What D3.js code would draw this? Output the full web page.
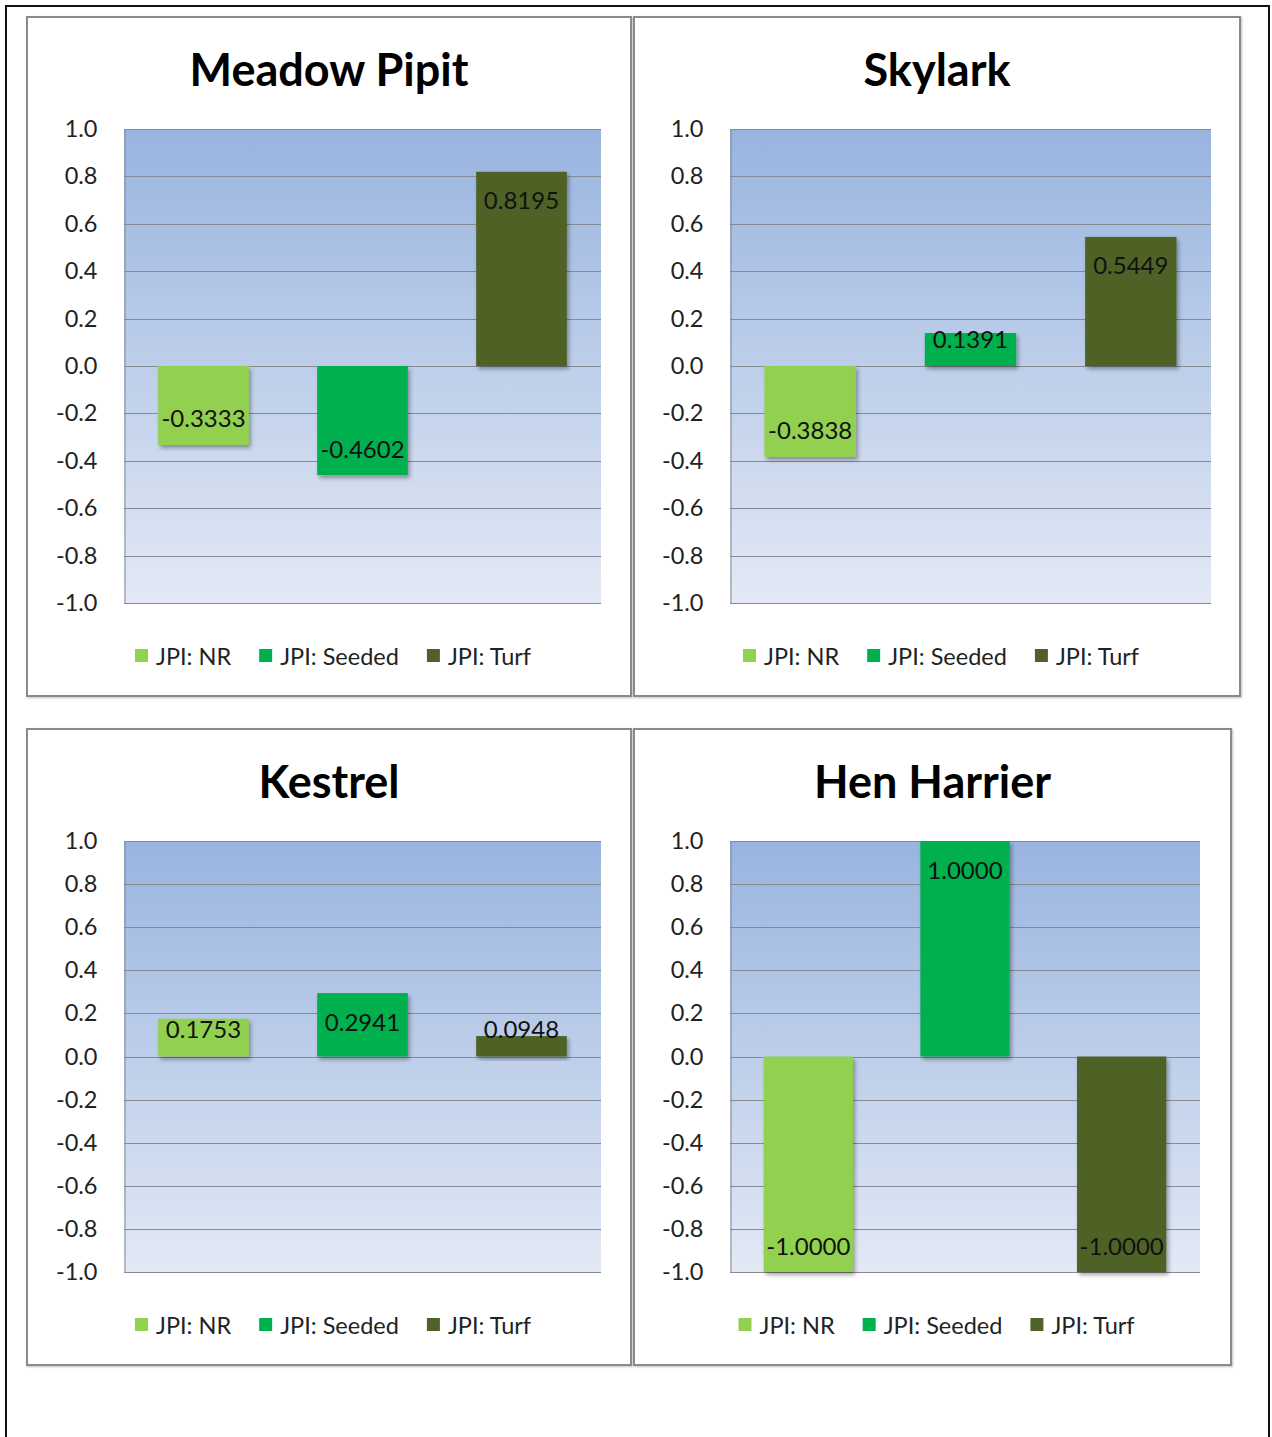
<!DOCTYPE html>
<html>
<head>
<meta charset="utf-8">
<script src="https://cdn.jsdelivr.net/npm/d3@7/dist/d3.min.js"></script>
<style>
  html, body { margin: 0; padding: 0; background: #fff; }
  svg { display: block; }
  text { font-family: Lato, "Open Sans", sans-serif; }
</style>
</head>
<body>
<svg id="chart" width="1272" height="1437"></svg>
<script>
// Joint probability index per species and restoration treatment
const species = ["Meadow Pipit", "Skylark", "Kestrel", "Hen Harrier"];
const seriesNames = ["JPI: NR", "JPI: Seeded", "JPI: Turf"];
const nrValues = [-0.3333, -0.3838, 0.1753, -1.0000];
const seededValues = [-0.4602, 0.1391, 0.2941, 1.0000];
const turfValues = [0.8195, 0.5449, 0.0948, -1.0000];
const yTicks = [1.0, 0.8, 0.6, 0.4, 0.2, 0.0, -0.2, -0.4, -0.6, -0.8, -1.0];
const seriesColors = ["#92d050", "#00b050", "#4f6228"];

// Frame and plot-area geometry for the 2x2 grid of panels
const panels = [
  { x: 27,  y: 17,  w: 604, h: 679, plot: { l: 124, r: 601,  t: 129, b: 603 } },
  { x: 634, y: 17,  w: 606, h: 679, plot: { l: 730, r: 1211, t: 129, b: 603 } },
  { x: 27,  y: 729, w: 604, h: 636, plot: { l: 124, r: 601,  t: 841, b: 1272 } },
  { x: 634, y: 729, w: 597, h: 636, plot: { l: 730, r: 1200, t: 841, b: 1272 } }
];

// Plain hyphen for negatives, one decimal place
const tickFmt = d => d.toFixed(1).replace("\u2212", "-");
const valueFmt = d => d.toFixed(4);

const svg = d3.select("#chart");
const defs = svg.append("defs");

const grad = defs.append("linearGradient")
  .attr("id", "plotBg").attr("x1", 0).attr("y1", 0).attr("x2", 0).attr("y2", 1);
grad.append("stop").attr("offset", "0%").attr("stop-color", "#98b4df");
grad.append("stop").attr("offset", "100%").attr("stop-color", "#e3e9f5");

const shadow = defs.append("filter").attr("id", "barShadow")
  .attr("x", "-10%").attr("y", "-10%").attr("width", "130%").attr("height", "130%");
shadow.append("feDropShadow").attr("dx", 2).attr("dy", 3)
  .attr("stdDeviation", 2).attr("flood-color", "#000").attr("flood-opacity", 0.35);

const panelShadow = defs.append("filter").attr("id", "panelShadow")
  .attr("x", "-5%").attr("y", "-5%").attr("width", "110%").attr("height", "110%");
panelShadow.append("feDropShadow").attr("dx", 1).attr("dy", 1)
  .attr("stdDeviation", 1).attr("flood-color", "#000").attr("flood-opacity", 0.25);

// Outer page frame
svg.append("rect")
  .attr("x", 6).attr("y", 6).attr("width", 1263).attr("height", 1440)
  .attr("fill", "none").attr("stroke", "#111").attr("stroke-width", 2);

species.forEach((name, i) => {
  const p = panels[i];
  const values = [nrValues[i], seededValues[i], turfValues[i]];
  const g = svg.append("g");

  g.append("rect")
    .attr("x", p.x).attr("y", p.y).attr("width", p.w).attr("height", p.h)
    .attr("fill", "#fff").attr("stroke", "#8a8a8a").attr("stroke-width", 2)
    .attr("filter", "url(#panelShadow)");

  const x = d3.scaleBand().domain(seriesNames)
    .range([p.plot.l, p.plot.r]).paddingInner(0.43).paddingOuter(0.215);
  const y = d3.scaleLinear().domain([-1, 1]).range([p.plot.b, p.plot.t]);

  // Plot area background
  g.append("rect")
    .attr("x", p.plot.l).attr("y", p.plot.t)
    .attr("width", p.plot.r - p.plot.l).attr("height", p.plot.b - p.plot.t)
    .attr("fill", "url(#plotBg)");

  // Gridlines
  g.append("g").selectAll("line").data(yTicks).join("line")
    .attr("x1", p.plot.l).attr("x2", p.plot.r)
    .attr("y1", d => Math.round(y(d)) + 0.5).attr("y2", d => Math.round(y(d)) + 0.5)
    .attr("stroke", "#868a92").attr("stroke-width", 1);

  // Y axis
  const axis = g.append("g")
    .attr("transform", `translate(${p.plot.l + 0.5},0)`)
    .call(d3.axisLeft(y).tickValues(yTicks).tickFormat(tickFmt).tickSize(0).tickPadding(27));
  axis.select(".domain").attr("stroke", "#868a92");
  axis.selectAll("text")
    .attr("font-family", "Lato, 'Open Sans', sans-serif")
    .attr("font-size", 23.5).attr("fill", "#222");

  // Bars
  g.append("g").selectAll("rect").data(values).join("rect")
    .attr("x", (d, k) => x(seriesNames[k]))
    .attr("width", x.bandwidth())
    .attr("y", d => y(Math.max(0, d)))
    .attr("height", d => Math.abs(y(d) - y(0)))
    .attr("fill", (d, k) => seriesColors[k])
    .attr("filter", "url(#barShadow)");

  // Value labels at the inside end of each bar
  const zero = y(0);
  g.append("g").selectAll("text").data(values).join("text")
    .attr("x", (d, k) => x(seriesNames[k]) + x.bandwidth() / 2)
    .attr("y", d => d >= 0 ? Math.min(y(d) + 28, zero - 28) : Math.max(y(d) - 27, zero + 27))
    .attr("text-anchor", "middle").attr("dominant-baseline", "central")
    .attr("font-size", 24).attr("fill", "#111")
    .text(valueFmt);

  // Title
  g.append("text")
    .attr("x", p.x + p.w / 2).attr("y", p.y + 69)
    .attr("text-anchor", "middle")
    .attr("font-size", 45).attr("font-weight", 700).attr("fill", "#000")
    .text(name);

  // Legend
  const legend = g.append("g");
  const cy = p.y + p.h - 40;
  let cursor = 0;
  seriesNames.forEach((s, k) => {
    const item = legend.append("g");
    item.append("rect").attr("x", 0).attr("y", -7).attr("width", 13).attr("height", 13)
      .attr("fill", seriesColors[k]);
    const t = item.append("text").attr("x", 21).attr("y", 0)
      .attr("dominant-baseline", "central")
      .attr("font-size", 23.5).attr("fill", "#222").text(s);
    const w = 21 + t.node().getComputedTextLength();
    item.attr("transform", `translate(${cursor},0)`);
    cursor += w + 28;
  });
  const total = cursor - 28;
  legend.attr("transform", `translate(${p.x + p.w / 2 + 4 - total / 2},${cy})`);
});
</script>
</body>
</html>
